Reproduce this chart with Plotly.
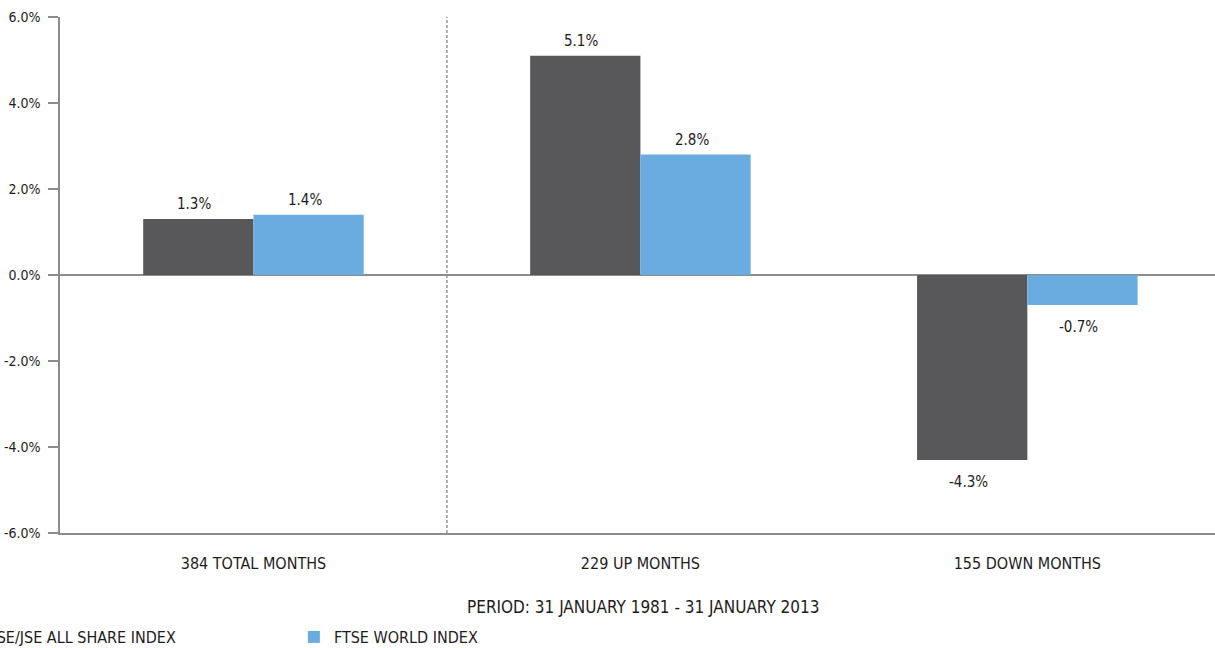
import plotly.graph_objects as go

# Average monthly returns by market phase
categories = ["384 TOTAL MONTHS", "229 UP MONTHS", "155 DOWN MONTHS"]
series_names = ["FTSE/JSE ALL SHARE INDEX", "FTSE WORLD INDEX"]
jse_values = [1.3, 5.1, -4.3]
world_values = [1.4, 2.8, -0.7]
y_tick_values = [-6, -4, -2, 0, 2, 4, 6]
y_tick_labels = ["-6.0%", "-4.0%", "-2.0%", "0.0%", "2.0%", "4.0%", "6.0%"]
period_label = "PERIOD: 31 JANUARY 1981 - 31 JANUARY 2013"

colors = ["#58585a", "#6aacdf"]
FONT = "Liberation Sans Narrow, DejaVu Sans Condensed, Arial Narrow, sans-serif"
TEXT_COLOR = "#1e1b1c"
AXIS_COLOR = "#8c8c8c"

BARGAP = 0.43
bar_w = (1 - BARGAP) / 2  # width of one bar in category units

fig = go.Figure()
for name, vals, col in zip(series_names, [jse_values, world_values], colors):
    fig.add_trace(go.Bar(
        x=categories, y=vals, name=name,
        marker=dict(color=col, line=dict(width=0)),
        hoverinfo="skip",
    ))

# value labels above positive bars, below negative bars
annotations = []
for s, vals in enumerate([jse_values, world_values]):
    offset = (s - 0.5) * bar_w
    for i, v in enumerate(vals):
        annotations.append(dict(
            x=i + offset, y=v, xref="x", yref="y",
            text=f"{v:.1f}%", showarrow=False,
            yanchor="bottom" if v >= 0 else "top",
            yshift=4 if v >= 0 else -11,
            xshift=-4,
            font=dict(family=FONT, size=15, color=TEXT_COLOR),
        ))

annotations.append(dict(
    x=(643 - 60) / 1155, y=(533 - 607) / 516, xref="paper", yref="paper",
    text=period_label, showarrow=False, xanchor="center", yanchor="middle",
    font=dict(family=FONT, size=17, color=TEXT_COLOR),
))

fig.update_layout(
    width=1215, height=648,
    margin=dict(l=60, r=0, t=17, b=115, autoexpand=False),
    paper_bgcolor="white", plot_bgcolor="white",
    barmode="group", bargap=BARGAP, bargroupgap=0,
    showlegend=True,
    legend=dict(
        orientation="h", x=-0.104, xanchor="left",
        y=(533 - 637) / 516, yanchor="middle",
        entrywidth=309, entrywidthmode="pixels",
        font=dict(family=FONT, size=16, color=TEXT_COLOR),
        bgcolor="rgba(0,0,0,0)",
    ),
    annotations=annotations,
    shapes=[dict(
        type="line", xref="x", yref="y", x0=0.5, x1=0.5, y0=-6, y1=6,
        line=dict(color="#7a7a7a", width=1.2, dash="3px,2px"),
        layer="below",
    )],
    font=dict(family=FONT, size=16, color=TEXT_COLOR),
)

fig.update_xaxes(
    range=[-0.5, 2.485],
    showline=True, linecolor=AXIS_COLOR, linewidth=1.5,
    ticks="", showgrid=False, zeroline=False,
    ticklabelstandoff=15,
    tickfont=dict(family=FONT, size=16, color=TEXT_COLOR),
)
fig.update_yaxes(
    range=[-6, 6],
    tickvals=y_tick_values, ticktext=y_tick_labels,
    showline=True, linecolor=AXIS_COLOR, linewidth=1.5,
    ticks="outside", ticklen=10, tickcolor=AXIS_COLOR, tickwidth=1.5,
    ticklabelstandoff=5,
    showgrid=False,
    zeroline=True, zerolinecolor=AXIS_COLOR, zerolinewidth=1.5,
    tickfont=dict(family=FONT, size=14, color=TEXT_COLOR),
)

fig.write_html("out.html")
